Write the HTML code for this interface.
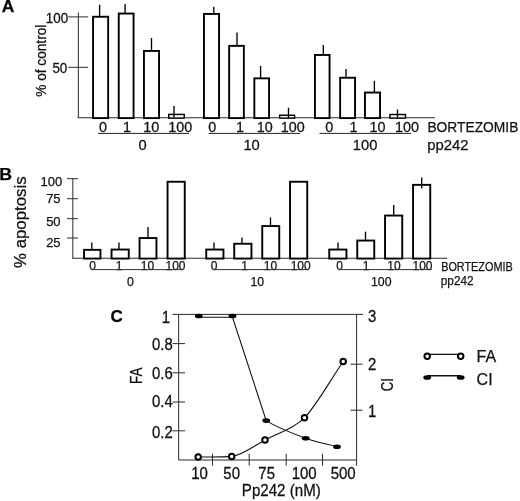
<!DOCTYPE html>
<html><head><meta charset="utf-8"><title>Figure</title>
<style>
html,body{margin:0;padding:0;background:#fff;}
body{width:520px;height:501px;overflow:hidden;font-family:"Liberation Sans", sans-serif;}
svg{display:block;will-change:transform;}
svg text{font-family:"Liberation Sans", sans-serif;stroke:#111;stroke-width:0.25px;}
</style></head><body>
<svg width="520" height="501" viewBox="0 0 520 501">
<rect width="520" height="501" fill="#fff"/>
<text x="1.7" y="12.2" font-size="16.5" text-anchor="start" font-weight="bold" fill="#000" textLength="12.6" lengthAdjust="spacingAndGlyphs" >A</text>
<line x1="78.35" y1="12.5" x2="78.35" y2="117.8" stroke="#2a2a2a" stroke-width="1"/>
<line x1="77.6" y1="117.8" x2="435" y2="117.8" stroke="#2a2a2a" stroke-width="1.1"/>
<line x1="68.3" y1="16.9" x2="88.2" y2="16.9" stroke="#2a2a2a" stroke-width="1"/>
<line x1="68.3" y1="67.3" x2="88.2" y2="67.3" stroke="#2a2a2a" stroke-width="1"/>
<text transform="translate(68.1 23.3) scale(1 1.06)" font-size="13.4" text-anchor="end" font-weight="normal" fill="#111" >100</text>
<text transform="translate(67.3 73.4) scale(1 1.06)" font-size="13.4" text-anchor="end" font-weight="normal" fill="#111" >50</text>
<text transform="translate(45.8,60.7) rotate(-90)" font-size="14.5" text-anchor="middle" fill="#111" textLength="72" lengthAdjust="spacingAndGlyphs">% of control</text>
<rect x="93.05" y="16.75" width="15.10" height="101.35" fill="#fff" stroke="#000" stroke-width="1.9"/>
<line x1="99.6" y1="4.7" x2="99.6" y2="16.3" stroke="#000" stroke-width="1.35"/>
<rect x="118.75" y="13.55" width="14.80" height="104.55" fill="#fff" stroke="#000" stroke-width="1.9"/>
<line x1="125.1" y1="4" x2="125.1" y2="13.1" stroke="#000" stroke-width="1.35"/>
<rect x="143.95" y="50.95" width="15.10" height="67.15" fill="#fff" stroke="#000" stroke-width="1.9"/>
<line x1="151.5" y1="38" x2="151.5" y2="50.5" stroke="#000" stroke-width="1.35"/>
<rect x="168.72" y="114.42" width="15.55" height="3.67" fill="#fff" stroke="#000" stroke-width="1.45"/>
<line x1="174" y1="106" x2="174" y2="117.7" stroke="#000" stroke-width="1.35"/>
<rect x="203.95" y="13.95" width="15.10" height="104.15" fill="#fff" stroke="#000" stroke-width="1.9"/>
<line x1="213.8" y1="6.8" x2="213.8" y2="13.5" stroke="#000" stroke-width="1.35"/>
<rect x="229.15" y="45.85" width="14.70" height="72.25" fill="#fff" stroke="#000" stroke-width="1.9"/>
<line x1="237" y1="32.5" x2="237" y2="45.4" stroke="#000" stroke-width="1.35"/>
<rect x="254.35" y="78.35" width="14.70" height="39.75" fill="#fff" stroke="#000" stroke-width="1.9"/>
<line x1="260.6" y1="66" x2="260.6" y2="77.9" stroke="#000" stroke-width="1.35"/>
<rect x="279.62" y="115.22" width="14.95" height="2.87" fill="#fff" stroke="#000" stroke-width="1.45"/>
<line x1="288.5" y1="107.7" x2="288.5" y2="118.5" stroke="#000" stroke-width="1.35"/>
<rect x="314.95" y="54.95" width="14.60" height="63.15" fill="#fff" stroke="#000" stroke-width="1.9"/>
<line x1="323.3" y1="45" x2="323.3" y2="54.5" stroke="#000" stroke-width="1.35"/>
<rect x="340.15" y="77.75" width="14.90" height="40.35" fill="#fff" stroke="#000" stroke-width="1.9"/>
<line x1="346" y1="69" x2="346" y2="77.3" stroke="#000" stroke-width="1.35"/>
<rect x="364.95" y="92.55" width="15.10" height="25.55" fill="#fff" stroke="#000" stroke-width="1.9"/>
<line x1="374.4" y1="80.8" x2="374.4" y2="92.1" stroke="#000" stroke-width="1.35"/>
<rect x="389.93" y="114.52" width="15.55" height="3.57" fill="#fff" stroke="#000" stroke-width="1.45"/>
<line x1="397.5" y1="109.5" x2="397.5" y2="117.8" stroke="#000" stroke-width="1.35"/>
<text transform="translate(103 131.5) scale(1 1.03)" font-size="14.4" text-anchor="middle" font-weight="normal" fill="#111" >0</text>
<text transform="translate(127 131.5) scale(1 1.03)" font-size="14.4" text-anchor="middle" font-weight="normal" fill="#111" >1</text>
<text transform="translate(151.2 131.5) scale(1 1.03)" font-size="14.4" text-anchor="middle" font-weight="normal" fill="#111" >10</text>
<text transform="translate(180.3 131.5) scale(1 1.03)" font-size="14.4" text-anchor="middle" font-weight="normal" fill="#111" >100</text>
<text transform="translate(212.3 131.5) scale(1 1.03)" font-size="14.4" text-anchor="middle" font-weight="normal" fill="#111" >0</text>
<text transform="translate(240.1 131.5) scale(1 1.03)" font-size="14.4" text-anchor="middle" font-weight="normal" fill="#111" >1</text>
<text transform="translate(264.8 131.5) scale(1 1.03)" font-size="14.4" text-anchor="middle" font-weight="normal" fill="#111" >10</text>
<text transform="translate(292.7 131.5) scale(1 1.03)" font-size="14.4" text-anchor="middle" font-weight="normal" fill="#111" >100</text>
<text transform="translate(329.3 131.5) scale(1 1.03)" font-size="14.4" text-anchor="middle" font-weight="normal" fill="#111" >0</text>
<text transform="translate(353.6 131.5) scale(1 1.03)" font-size="14.4" text-anchor="middle" font-weight="normal" fill="#111" >1</text>
<text transform="translate(377.4 131.5) scale(1 1.03)" font-size="14.4" text-anchor="middle" font-weight="normal" fill="#111" >10</text>
<text transform="translate(407 131.5) scale(1 1.03)" font-size="14.4" text-anchor="middle" font-weight="normal" fill="#111" >100</text>
<line x1="98" y1="133.4" x2="189" y2="133.4" stroke="#222" stroke-width="1"/>
<line x1="208.6" y1="133.4" x2="300" y2="133.4" stroke="#222" stroke-width="1"/>
<line x1="319.5" y1="133.4" x2="411" y2="133.4" stroke="#222" stroke-width="1"/>
<text transform="translate(142.5 150.3) scale(1 1.02)" font-size="14.7" text-anchor="middle" font-weight="normal" fill="#111" >0</text>
<text transform="translate(251.6 150.3) scale(1 1.02)" font-size="14.7" text-anchor="middle" font-weight="normal" fill="#111" >10</text>
<text transform="translate(365.1 150.3) scale(1 1.02)" font-size="14.7" text-anchor="middle" font-weight="normal" fill="#111" >100</text>
<text x="427.4" y="131.8" font-size="15.3" text-anchor="start" font-weight="normal" fill="#111" textLength="91" lengthAdjust="spacingAndGlyphs" >BORTEZOMIB</text>
<text x="427.2" y="150.3" font-size="15" text-anchor="start" font-weight="normal" fill="#111" textLength="41.3" lengthAdjust="spacingAndGlyphs" >pp242</text>
<text x="-0.8" y="180" font-size="16.5" text-anchor="start" font-weight="bold" fill="#000" textLength="12.8" lengthAdjust="spacingAndGlyphs" >B</text>
<line x1="72.85" y1="178.3" x2="72.85" y2="258.25" stroke="#2a2a2a" stroke-width="1"/>
<line x1="72.3" y1="258.25" x2="447.3" y2="258.25" stroke="#2a2a2a" stroke-width="1.1"/>
<line x1="67" y1="178.7" x2="78" y2="178.7" stroke="#2a2a2a" stroke-width="1"/>
<line x1="67" y1="198.7" x2="78" y2="198.7" stroke="#2a2a2a" stroke-width="1"/>
<line x1="67" y1="218.7" x2="78" y2="218.7" stroke="#2a2a2a" stroke-width="1"/>
<line x1="67" y1="238" x2="78" y2="238" stroke="#2a2a2a" stroke-width="1"/>
<text x="62.2" y="185.9" font-size="13" text-anchor="end" font-weight="normal" fill="#111" >100</text>
<text x="60.6" y="203.3" font-size="13" text-anchor="end" font-weight="normal" fill="#111" >75</text>
<text x="60.6" y="225.6" font-size="13" text-anchor="end" font-weight="normal" fill="#111" >50</text>
<text x="60.6" y="247.2" font-size="13" text-anchor="end" font-weight="normal" fill="#111" >25</text>
<text transform="translate(26.3,222.2) rotate(-90)" font-size="16.5" text-anchor="middle" fill="#111" textLength="91.5" lengthAdjust="spacingAndGlyphs">% apoptosis</text>
<rect x="84.05" y="249.85" width="16.40" height="8.70" fill="#fff" stroke="#000" stroke-width="1.9"/>
<line x1="91.8" y1="242.5" x2="91.8" y2="249.4" stroke="#000" stroke-width="1.35"/>
<rect x="111.55" y="249.55" width="17.20" height="9.00" fill="#fff" stroke="#000" stroke-width="1.9"/>
<line x1="119" y1="242.5" x2="119" y2="249.1" stroke="#000" stroke-width="1.35"/>
<rect x="139.55" y="238.05" width="16.90" height="20.50" fill="#fff" stroke="#000" stroke-width="1.9"/>
<line x1="148" y1="227" x2="148" y2="237.6" stroke="#000" stroke-width="1.35"/>
<rect x="167.55" y="181.75" width="17.20" height="76.80" fill="#fff" stroke="#000" stroke-width="1.9"/>
<rect x="206.25" y="249.55" width="17.20" height="9.00" fill="#fff" stroke="#000" stroke-width="1.9"/>
<line x1="214" y1="242.5" x2="214" y2="249.1" stroke="#000" stroke-width="1.35"/>
<rect x="234.25" y="243.75" width="17.20" height="14.80" fill="#fff" stroke="#000" stroke-width="1.9"/>
<line x1="242" y1="237.5" x2="242" y2="243.29999999999998" stroke="#000" stroke-width="1.35"/>
<rect x="262.25" y="226.05" width="17.00" height="32.50" fill="#fff" stroke="#000" stroke-width="1.9"/>
<line x1="270.5" y1="217.5" x2="270.5" y2="225.6" stroke="#000" stroke-width="1.35"/>
<rect x="290.05" y="181.75" width="17.20" height="76.80" fill="#fff" stroke="#000" stroke-width="1.9"/>
<rect x="329.25" y="249.55" width="17.20" height="9.00" fill="#fff" stroke="#000" stroke-width="1.9"/>
<line x1="338" y1="242.5" x2="338" y2="249.1" stroke="#000" stroke-width="1.35"/>
<rect x="357.25" y="240.55" width="17.00" height="18.00" fill="#fff" stroke="#000" stroke-width="1.9"/>
<line x1="365.5" y1="231.7" x2="365.5" y2="240.1" stroke="#000" stroke-width="1.35"/>
<rect x="385.05" y="215.55" width="17.20" height="43.00" fill="#fff" stroke="#000" stroke-width="1.9"/>
<line x1="393.7" y1="205" x2="393.7" y2="215.1" stroke="#000" stroke-width="1.35"/>
<rect x="413.05" y="184.85" width="17.20" height="73.70" fill="#fff" stroke="#000" stroke-width="1.9"/>
<line x1="421.7" y1="177.5" x2="421.7" y2="188.4" stroke="#000" stroke-width="1.35"/>
<text x="92.5" y="270.35" font-size="12" text-anchor="middle" font-weight="normal" fill="#111" >0</text>
<text x="119" y="270.35" font-size="12" text-anchor="middle" font-weight="normal" fill="#111" >1</text>
<text x="147.5" y="270.35" font-size="12" text-anchor="middle" font-weight="normal" fill="#111" >10</text>
<text x="175.5" y="270.35" font-size="12" text-anchor="middle" font-weight="normal" fill="#111" >100</text>
<text x="214" y="270.35" font-size="12" text-anchor="middle" font-weight="normal" fill="#111" >0</text>
<text x="244.5" y="270.35" font-size="12" text-anchor="middle" font-weight="normal" fill="#111" >1</text>
<text x="270.5" y="270.35" font-size="12" text-anchor="middle" font-weight="normal" fill="#111" >10</text>
<text x="300.7" y="270.35" font-size="12" text-anchor="middle" font-weight="normal" fill="#111" >100</text>
<text x="339.5" y="270.35" font-size="12" text-anchor="middle" font-weight="normal" fill="#111" >0</text>
<text x="366" y="270.35" font-size="12" text-anchor="middle" font-weight="normal" fill="#111" >1</text>
<text x="394" y="270.35" font-size="12" text-anchor="middle" font-weight="normal" fill="#111" >10</text>
<text x="422.5" y="270.35" font-size="12" text-anchor="middle" font-weight="normal" fill="#111" >100</text>
<line x1="93.7" y1="269.6" x2="182.5" y2="269.6" stroke="#333" stroke-width="1"/>
<line x1="215" y1="269.6" x2="307.5" y2="269.6" stroke="#333" stroke-width="1"/>
<line x1="340.5" y1="269.6" x2="431.7" y2="269.6" stroke="#333" stroke-width="1"/>
<text x="130.3" y="285.9" font-size="12.3" text-anchor="middle" font-weight="normal" fill="#111" >0</text>
<text x="257.3" y="285.9" font-size="12.3" text-anchor="middle" font-weight="normal" fill="#111" >10</text>
<text x="381.3" y="285.9" font-size="12.3" text-anchor="middle" font-weight="normal" fill="#111" >100</text>
<text x="441.2" y="270.6" font-size="12.8" text-anchor="start" font-weight="normal" fill="#111" textLength="71.5" lengthAdjust="spacingAndGlyphs" >BORTEZOMIB</text>
<text x="440.8" y="285.3" font-size="12.8" text-anchor="start" font-weight="normal" fill="#111" textLength="32.8" lengthAdjust="spacingAndGlyphs" >pp242</text>
<text x="110.6" y="322.2" font-size="17" text-anchor="start" font-weight="bold" fill="#000" >C</text>
<line x1="172.5" y1="314.4" x2="363" y2="314.4" stroke="#2a2a2a" stroke-width="1"/>
<line x1="178.65" y1="314.4" x2="178.65" y2="460" stroke="#2a2a2a" stroke-width="1"/>
<line x1="356.6" y1="314.4" x2="356.6" y2="465.7" stroke="#2a2a2a" stroke-width="1"/>
<line x1="178.65" y1="460" x2="356.6" y2="460" stroke="#2a2a2a" stroke-width="1"/>
<line x1="172.5" y1="343.6" x2="185" y2="343.6" stroke="#2a2a2a" stroke-width="1"/>
<line x1="172.5" y1="372.8" x2="185" y2="372.8" stroke="#2a2a2a" stroke-width="1"/>
<line x1="172.5" y1="402.0" x2="185" y2="402.0" stroke="#2a2a2a" stroke-width="1"/>
<line x1="172.5" y1="430.8" x2="185" y2="430.8" stroke="#2a2a2a" stroke-width="1"/>
<line x1="350.5" y1="364.2" x2="362.5" y2="364.2" stroke="#2a2a2a" stroke-width="1"/>
<line x1="350.5" y1="410.2" x2="362.5" y2="410.2" stroke="#2a2a2a" stroke-width="1"/>
<line x1="212.5" y1="453.7" x2="212.5" y2="465.7" stroke="#2a2a2a" stroke-width="1"/>
<line x1="249.2" y1="453.7" x2="249.2" y2="465.7" stroke="#2a2a2a" stroke-width="1"/>
<line x1="286.2" y1="453.7" x2="286.2" y2="465.7" stroke="#2a2a2a" stroke-width="1"/>
<line x1="322.5" y1="453.7" x2="322.5" y2="465.7" stroke="#2a2a2a" stroke-width="1"/>
<text transform="translate(170 322.6) scale(1.03 1.08)" font-size="14.5" text-anchor="end" font-weight="normal" fill="#111" >1</text>
<text transform="translate(172.7 350.1) scale(1.03 1.08)" font-size="14.5" text-anchor="end" font-weight="normal" fill="#111" >0.8</text>
<text transform="translate(172.7 378.8) scale(1.03 1.08)" font-size="14.5" text-anchor="end" font-weight="normal" fill="#111" >0.6</text>
<text transform="translate(172.7 406.8) scale(1.03 1.08)" font-size="14.5" text-anchor="end" font-weight="normal" fill="#111" >0.4</text>
<text transform="translate(172.7 438.3) scale(1.03 1.08)" font-size="14.5" text-anchor="end" font-weight="normal" fill="#111" >0.2</text>
<text transform="translate(372.2 322.0) scale(1.03 1.08)" font-size="14.5" text-anchor="middle" font-weight="normal" fill="#111" >3</text>
<text transform="translate(372.2 369.9) scale(1.03 1.08)" font-size="14.5" text-anchor="middle" font-weight="normal" fill="#111" >2</text>
<text transform="translate(372.2 417.2) scale(1.03 1.08)" font-size="14.5" text-anchor="middle" font-weight="normal" fill="#111" >1</text>
<text transform="translate(141.6,375.8) rotate(-90)" font-size="16" text-anchor="middle" fill="#111" textLength="16.4" lengthAdjust="spacingAndGlyphs">FA</text>
<text transform="translate(393.1,384.6) rotate(-90)" font-size="16.3" text-anchor="middle" fill="#111" textLength="13.2" lengthAdjust="spacingAndGlyphs">CI</text>
<text transform="translate(199.5 479.1) scale(1.0 1.07)" font-size="15" text-anchor="middle" font-weight="normal" fill="#111" >10</text>
<text transform="translate(231.7 479.1) scale(1.0 1.07)" font-size="15" text-anchor="middle" font-weight="normal" fill="#111" >50</text>
<text transform="translate(266.7 479.1) scale(1.0 1.07)" font-size="15" text-anchor="middle" font-weight="normal" fill="#111" >75</text>
<text transform="translate(304.2 479.1) scale(1.0 1.07)" font-size="15" text-anchor="middle" font-weight="normal" fill="#111" >100</text>
<text transform="translate(343.2 479.1) scale(1.0 1.07)" font-size="15" text-anchor="middle" font-weight="normal" fill="#111" >500</text>
<text transform="translate(241.8 495.5) scale(1 1.12)" font-size="15.2" text-anchor="start" font-weight="normal" fill="#111" textLength="79" lengthAdjust="spacingAndGlyphs" >Pp242 (nM)</text>
<path fill="none" stroke="#111" stroke-width="1.1" d="M198.7,317.3 L232.5,317.3 L266.2,420.6"/>
<path fill="none" stroke="#111" stroke-width="1.1" d="M266.2,420.6 C276.2,426.9 293.9,433.9 305.7,438.2 C317.5,442.5 326.6,443.9 337.0,446.7"/>
<path fill="none" stroke="#111" stroke-width="1.1" d="M198.2,457.0 C209.4,456.8 221.7,457.2 231.7,456.4 C241.7,455.6 254.8,445.4 265.0,440.0 C275.2,434.6 293.6,428.8 304.5,417.8 C315.4,406.8 330.3,380.3 343.2,361.5"/>
<ellipse cx="198.7" cy="316.0" rx="3.9" ry="2.3" fill="#000"/>
<ellipse cx="232.5" cy="316.0" rx="3.9" ry="2.3" fill="#000"/>
<ellipse cx="266.2" cy="420.6" rx="3.9" ry="2.3" fill="#000"/>
<ellipse cx="305.7" cy="438.2" rx="3.9" ry="2.3" fill="#000"/>
<ellipse cx="337" cy="446.7" rx="3.9" ry="2.3" fill="#000"/>
<circle cx="198.2" cy="457" r="2.75" fill="#fff" stroke="#000" stroke-width="1.95"/>
<circle cx="231.7" cy="456.4" r="2.75" fill="#fff" stroke="#000" stroke-width="1.95"/>
<circle cx="265" cy="440" r="2.75" fill="#fff" stroke="#000" stroke-width="1.95"/>
<circle cx="304.5" cy="417.8" r="2.75" fill="#fff" stroke="#000" stroke-width="1.95"/>
<circle cx="343.2" cy="361.5" r="2.75" fill="#fff" stroke="#000" stroke-width="1.95"/>
<line x1="427.2" y1="354.4" x2="460.7" y2="354.4" stroke="#111" stroke-width="1.2"/>
<circle cx="427.2" cy="356.3" r="2.75" fill="#fff" stroke="#000" stroke-width="1.95"/>
<circle cx="460.7" cy="356.3" r="2.75" fill="#fff" stroke="#000" stroke-width="1.95"/>
<line x1="427.2" y1="375.8" x2="460.7" y2="375.8" stroke="#111" stroke-width="1.5"/>
<ellipse cx="427.2" cy="377.5" rx="3.9" ry="2.3" fill="#000"/>
<ellipse cx="460.7" cy="377.5" rx="3.9" ry="2.3" fill="#000"/>
<text x="476.6" y="362.2" font-size="16" text-anchor="start" font-weight="normal" fill="#111" >FA</text>
<text x="476.6" y="384.6" font-size="16" text-anchor="start" font-weight="normal" fill="#111" >CI</text>
</svg>
</body></html>
